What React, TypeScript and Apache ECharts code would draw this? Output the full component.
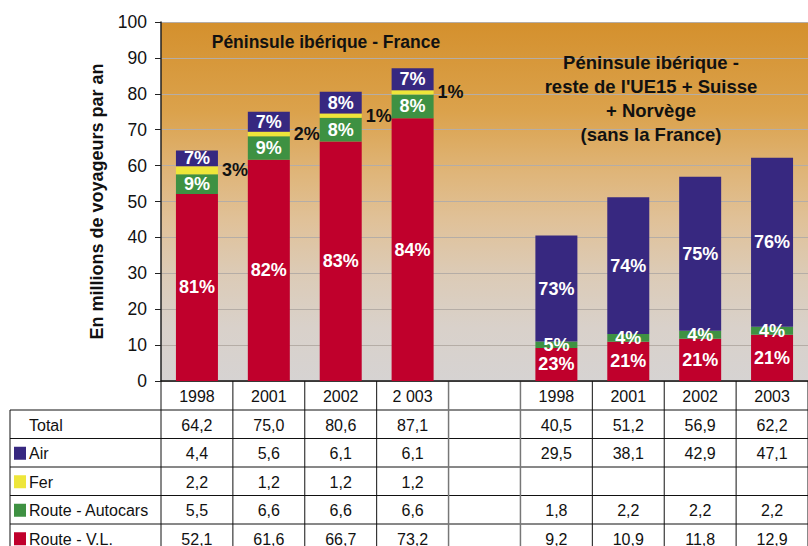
import React, { useEffect, useRef } from "react";
import * as echarts from "echarts";

// Column headers (index 4 is the empty gap column)
const categories = ["1998", "2001", "2002", "2 003", "", "1998", "2001", "2002", "2003"];

// Péninsule ibérique - France (millions of travellers)
const frTotal = [64.2, 75.0, 80.6, 87.1];
const frAir = [4.4, 5.6, 6.1, 6.1];
const frFer = [2.2, 1.2, 1.2, 1.2];
const frAutocars = [5.5, 6.6, 6.6, 6.6];
const frRoute = [52.1, 61.6, 66.7, 73.2];

// Péninsule ibérique - reste de l'UE15 + Suisse + Norvège
const euTotal = [40.5, 51.2, 56.9, 62.2];
const euAir = [29.5, 38.1, 42.9, 47.1];
const euFer: (number | null)[] = [null, null, null, null];
const euAutocars = [1.8, 2.2, 2.2, 2.2];
const euRoute = [9.2, 10.9, 11.8, 12.9];

// Percentage labels
const frAirPct = [7, 7, 8, 7];
const frFerPct = [3, 2, 1, 1];
const frAutocarsPct = [9, 9, 8, 8];
const frRoutePct = [81, 82, 83, 84];
const euAirPct = [73, 74, 75, 76];
const euFerPct: (number | null)[] = [null, null, null, null];
const euAutocarsPct = [5, 4, 4, 4];
const euRoutePct = [23, 21, 21, 21];

const titleLeft = "Péninsule ibérique - France";
const titleRight = "Péninsule ibérique -\nreste de l'UE15 + Suisse\n+ Norvège\n(sans la France)";
const yAxisName = "En millions de voyageurs par an";

const join = (a: (number | null)[], b: (number | null)[]) => [...a, null, ...b];

const FONT = '"Liberation Sans", Arial, sans-serif';

const seriesDefs = [
  { name: "Route - V.L.", color: "#C0002C", values: join(frRoute, euRoute), pct: join(frRoutePct, euRoutePct), outside: false },
  { name: "Route - Autocars", color: "#3E9142", values: join(frAutocars, euAutocars), pct: join(frAutocarsPct, euAutocarsPct), outside: false },
  { name: "Fer", color: "#EEE63A", values: join(frFer, euFer), pct: join(frFerPct, euFerPct), outside: true },
  { name: "Air", color: "#372880", values: join(frAir, euAir), pct: join(frAirPct, euAirPct), outside: false },
];

const tableRows = [
  { label: "Total", color: null as string | null, values: join(frTotal, euTotal) },
  { label: "Air", color: "#372880", values: join(frAir, euAir) },
  { label: "Fer", color: "#EEE63A", values: join(frFer, euFer) },
  { label: "Route - Autocars", color: "#3E9142", values: join(frAutocars, euAutocars) },
  { label: "Route - V.L.", color: "#C0002C", values: join(frRoute, euRoute) },
];

const fmt = (v: number | null) => (v == null ? "" : v.toFixed(1).replace(".", ","));

export default function App() {
  const ref = useRef<HTMLDivElement>(null);

  useEffect(() => {
    if (!ref.current) return;
    const chart = echarts.init(ref.current, null, { renderer: "svg" });

    const option: any = {
      animation: false,
      grid: {
        left: 161,
        top: 22,
        bottom: 165,
        width: 652,
        show: true,
        borderWidth: 0,
        backgroundColor: new echarts.graphic.LinearGradient(0, 0, 0, 1, [
          { offset: 0, color: "#D4902D" },
          { offset: 0.25, color: "#DBA24C" },
          { offset: 0.42, color: "#DFB579" },
          { offset: 0.55, color: "#E0C198" },
          { offset: 0.7, color: "#DCCBB6" },
          { offset: 0.85, color: "#D9D1CA" },
          { offset: 1, color: "#D6D3D2" },
        ]),
      },
      xAxis: {
        type: "category",
        data: categories,
        axisLabel: { show: false },
        axisTick: { show: false },
        axisLine: { show: true, lineStyle: { color: "#111", width: 1.5 } },
      },
      yAxis: {
        type: "value",
        min: 0,
        max: 100,
        interval: 10,
        name: yAxisName,
        nameLocation: "middle",
        nameGap: 55,
        nameRotate: 90,
        nameTextStyle: { fontFamily: FONT, fontSize: 18, fontWeight: "bold", color: "#111" },
        axisLine: { show: true, lineStyle: { color: "#222", width: 1.5 } },
        axisTick: { show: true, length: 6, lineStyle: { color: "#222" } },
        axisLabel: { fontFamily: FONT, fontSize: 17.5, color: "#111", margin: 14 },
        splitLine: { show: true, lineStyle: { color: "#B5ADA6", width: 1 } },
      },
      series: seriesDefs.map((s) => ({
        type: "bar",
        name: s.name,
        stack: "total",
        barWidth: 42,
        data: s.values,
        itemStyle: { color: s.color },
        label: {
          show: true,
          position: s.outside ? "right" : "inside",
          distance: 4,
          color: s.outside ? "#111" : "#fff",
          fontFamily: FONT,
          fontSize: 18,
          fontWeight: "bold",
          textBorderWidth: 0,
          formatter: (p: any) => (s.pct[p.dataIndex] == null ? "" : s.pct[p.dataIndex] + "%"),
        },
      })),
    };
    chart.setOption(option);

    // Data table below the plot, aligned with the category axis
    const c0 = chart.convertToPixel({ xAxisIndex: 0 }, 0) as number;
    const c1 = chart.convertToPixel({ xAxisIndex: 0 }, 1) as number;
    const colW = c1 - c0;
    const yTop = chart.convertToPixel({ yAxisIndex: 0 }, 0) as number;
    const headerBottom = yTop + 29;
    const rowH = 28.5;
    const tableLeft = 10;
    const labelLeft = 29;
    const H = 546;
    const W = 830;

    const g: any[] = [];
    const textStyle = (text: string, x: number, y: number, align: string, extra: any = {}) => ({
      type: "text",
      silent: true,
      style: {
        text,
        x,
        y,
        fill: "#111",
        fontFamily: FONT,
        fontSize: 16,
        textAlign: align,
        textVerticalAlign: "middle",
        verticalAlign: "middle",
        ...extra,
      },
    });

    // horizontal lines
    for (let i = 0; i <= tableRows.length; i++) {
      const y = headerBottom + i * rowH;
      g.push({ type: "line", silent: true, shape: { x1: tableLeft, y1: y, x2: W, y2: y }, style: { stroke: "#111", lineWidth: 1 } });
    }
    // vertical lines
    g.push({ type: "line", silent: true, shape: { x1: tableLeft, y1: headerBottom, x2: tableLeft, y2: H }, style: { stroke: "#111", lineWidth: 1 } });
    for (let k = 0; k <= categories.length; k++) {
      const x = c0 - colW / 2 + k * colW;
      const gray = k === 4 || k === 5;
      g.push({
        type: "line",
        silent: true,
        shape: { x1: x, y1: yTop, x2: x, y2: H },
        style: { stroke: gray ? "#777" : "#111", lineWidth: gray ? 1.5 : 1 },
      });
    }
    // header
    categories.forEach((c, i) => {
      if (c) g.push(textStyle(c, c0 + i * colW, (yTop + headerBottom) / 2 + 1, "center"));
    });
    // rows
    tableRows.forEach((r, ri) => {
      const cy = headerBottom + ri * rowH + rowH / 2 + 1;
      if (r.color) {
        g.push({ type: "rect", silent: true, shape: { x: 14, y: cy - 7, width: 12, height: 13 }, style: { fill: r.color } });
      }
      g.push(textStyle(r.label, labelLeft, cy, "left"));
      r.values.forEach((v, i) => {
        const t = fmt(v);
        if (t) g.push(textStyle(t, c0 + i * colW, cy, "center"));
      });
    });
    // panel titles
    g.push(textStyle(titleLeft, 326, 42, "center", { fontSize: 17.5, fontWeight: "bold" }));
    g.push(
      textStyle(titleRight, 651, 98, "center", { fontSize: 18.5, fontWeight: "bold", lineHeight: 24 })
    );

    chart.setOption({ graphic: g });

    return () => chart.dispose();
  }, []);

  return <div ref={ref} style={{ position: "absolute", left: 0, top: 0, width: 808, height: 546 }} />;
}
